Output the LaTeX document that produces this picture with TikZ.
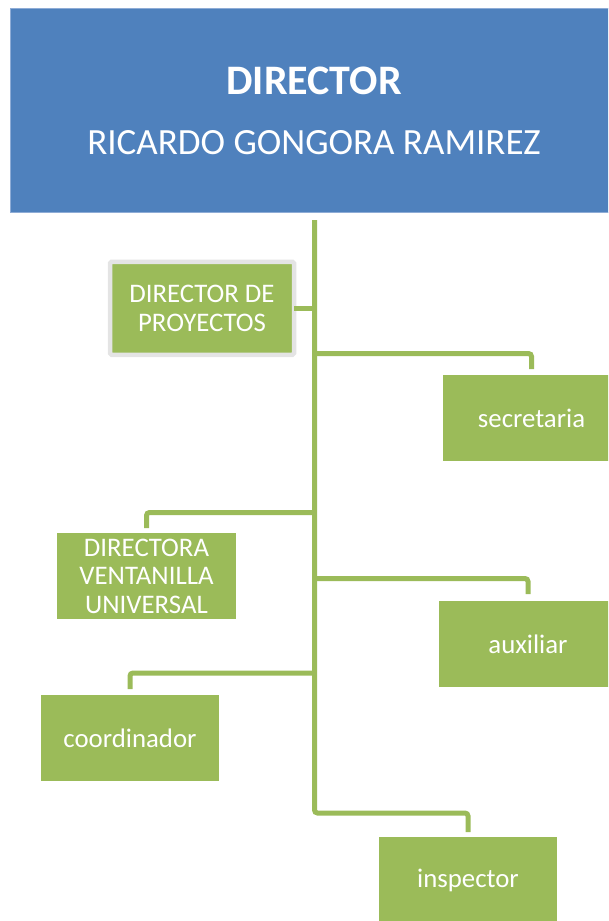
\documentclass[tikz,border=0pt]{standalone}
\usepackage{fontspec}
\setmainfont{Carlito}
\definecolor{hdrblue}{HTML}{4F81BD}
\definecolor{hdredge}{HTML}{8EACD6}
\definecolor{boxgreen}{HTML}{9BBB59}
\definecolor{framegray}{HTML}{E4E4E4}
\tikzset{
  greenbox/.style={fill=boxgreen, draw=none, inner sep=0pt, outer sep=0pt,
    minimum width=178pt, minimum height=86pt, text=white, align=center,
    font=\fontsize{26.8}{28.5}\selectfont},
  conn/.style={draw=boxgreen, line width=5pt, rounded corners=3pt}
}
\begin{document}
\begin{tikzpicture}[x=1pt,y=-1pt]
\useasboundingbox (0,0) rectangle (608,921);
\clip (0,0) rectangle (608,921);
% header
\node[fill=hdrblue, draw=hdredge, line width=1pt, inner sep=0pt, outer sep=0pt,
  minimum width=607pt, minimum height=204.5pt, text=white, align=center,
  font=\fontsize{37}{60}\selectfont] (dir) at (314,110.5)
  {{\fontsize{42}{60}\selectfont\bfseries DIRECTOR}\\RICARDO GONGORA RAMIREZ};
% boxes
\node[greenbox, draw=framegray, line width=4.5pt, rounded corners=1.5pt,
  minimum width=184pt, minimum height=93pt] (dp) at (202,308.25) {DIRECTOR DE\\PROYECTOS};
\node[greenbox] (sec) at (531.5,418) {secretaria};
\node[greenbox, minimum width=179pt] (dv) at (146.5,576) {DIRECTORA\\VENTANILLA\\UNIVERSAL};
\node[greenbox] (aux) at (528,644) {auxiliar};
\node[greenbox] (coord) at (130,738) {coordinador};
\node[greenbox] (insp) at (468,880) {inspector};
% trunk & junctions
\coordinate (t0) at (314.5,220);
\coordinate (jI) at (314.5,813);
\coordinate (bS) at (314.5,353.5);
\coordinate (bD) at (314.5,512.5);
\coordinate (bA) at (314.5,578.5);
\coordinate (bC) at (314.5,673);
\draw[conn, shorten >=5pt] (t0) -- (jI) -| (insp.north);
\draw[conn] (dp.east) -- (dp.east -| t0);
\draw[conn, shorten >=6pt] (bS) -| (sec.north);
\draw[conn, shorten >=5pt] (bD) -| (dv.north);
\draw[conn, shorten >=7pt] (bA) -| (aux.north);
\draw[conn, shorten >=6pt] (bC) -| (coord.north);
\end{tikzpicture}
\end{document}
